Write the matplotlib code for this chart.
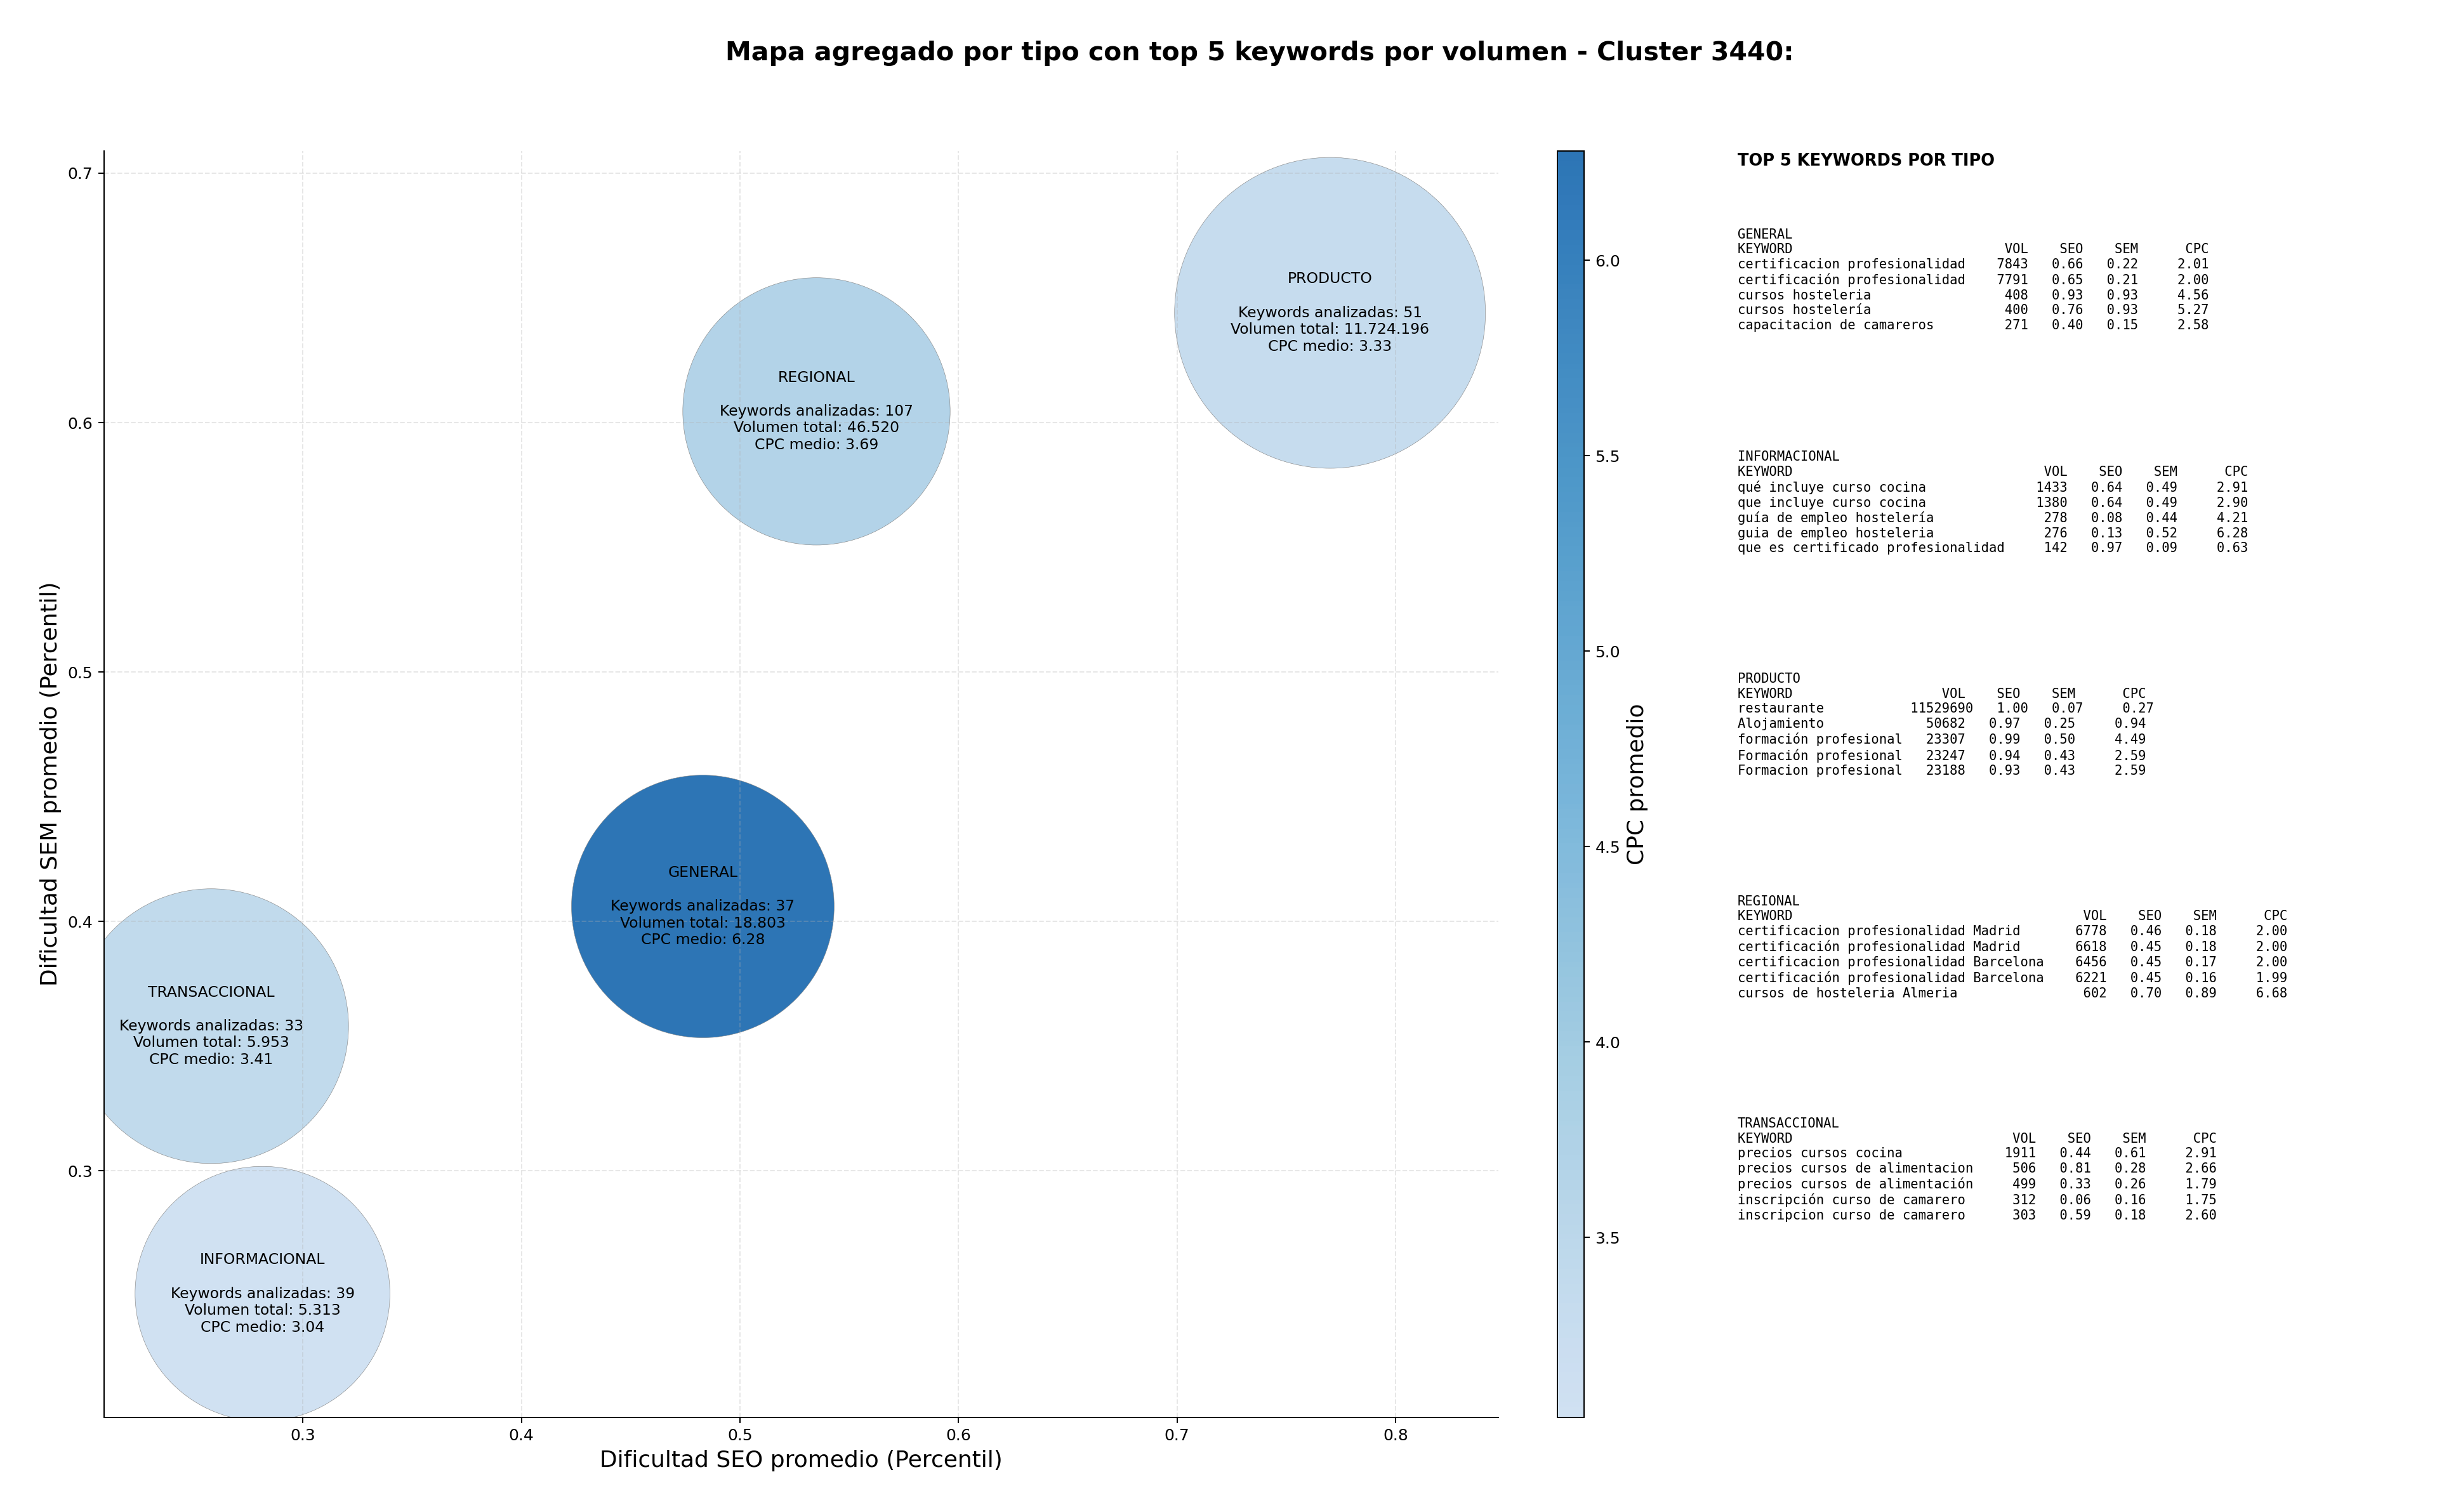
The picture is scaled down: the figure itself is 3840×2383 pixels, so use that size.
import numpy as np
import matplotlib
matplotlib.use("Agg")
import matplotlib.pyplot as plt
from matplotlib.colors import LinearSegmentedColormap

# datos agregados por tipo
tipos = ["GENERAL", "INFORMACIONAL", "PRODUCTO", "REGIONAL", "TRANSACCIONAL"]
seo_medio = [0.483, 0.2815, 0.770, 0.535, 0.258]
sem_medio = [0.406, 0.2507, 0.644, 0.6045, 0.358]
n_keywords = [37, 39, 51, 107, 33]
vol_total = [18803, 5313, 11724196, 46520, 5953]
cpc_medio = [6.28, 3.04, 3.33, 3.69, 3.41]

# top 5 keywords por tipo: (keyword, vol, seo, sem, cpc)
top_general = [
    ("certificacion profesionalidad", 7843, 0.66, 0.22, 2.01),
    ("certificación profesionalidad", 7791, 0.65, 0.21, 2.00),
    ("cursos hosteleria", 408, 0.93, 0.93, 4.56),
    ("cursos hostelería", 400, 0.76, 0.93, 5.27),
    ("capacitacion de camareros", 271, 0.40, 0.15, 2.58),
]
top_informacional = [
    ("qué incluye curso cocina", 1433, 0.64, 0.49, 2.91),
    ("que incluye curso cocina", 1380, 0.64, 0.49, 2.90),
    ("guía de empleo hostelería", 278, 0.08, 0.44, 4.21),
    ("guia de empleo hosteleria", 276, 0.13, 0.52, 6.28),
    ("que es certificado profesionalidad", 142, 0.97, 0.09, 0.63),
]
top_producto = [
    ("restaurante", 11529690, 1.00, 0.07, 0.27),
    ("Alojamiento", 50682, 0.97, 0.25, 0.94),
    ("formación profesional", 23307, 0.99, 0.50, 4.49),
    ("Formación profesional", 23247, 0.94, 0.43, 2.59),
    ("Formacion profesional", 23188, 0.93, 0.43, 2.59),
]
top_regional = [
    ("certificacion profesionalidad Madrid", 6778, 0.46, 0.18, 2.00),
    ("certificación profesionalidad Madrid", 6618, 0.45, 0.18, 2.00),
    ("certificacion profesionalidad Barcelona", 6456, 0.45, 0.17, 2.00),
    ("certificación profesionalidad Barcelona", 6221, 0.45, 0.16, 1.99),
    ("cursos de hosteleria Almeria", 602, 0.70, 0.89, 6.68),
]
top_transaccional = [
    ("precios cursos cocina", 1911, 0.44, 0.61, 2.91),
    ("precios cursos de alimentacion", 506, 0.81, 0.28, 2.66),
    ("precios cursos de alimentación", 499, 0.33, 0.26, 1.79),
    ("inscripción curso de camarero", 312, 0.06, 0.16, 1.75),
    ("inscripcion curso de camarero", 303, 0.59, 0.18, 2.60),
]
tops = [top_general, top_informacional, top_producto, top_regional, top_transaccional]

# tamaño de burbuja (puntos^2)
tam_burbuja = [27400, 25800, 38400, 28400, 30000]

cmap = LinearSegmentedColormap.from_list(
    "blues_cut", plt.cm.Blues(np.linspace(0.22, 0.78, 256)))

fig = plt.figure(figsize=(3840 / 180, 2383 / 180), dpi=180)
ax = fig.add_axes([0.0427, 0.0627, 0.5721, 0.8376])
cax = fig.add_axes([0.639, 0.0627, 0.011, 0.8376])

sc = ax.scatter(seo_medio, sem_medio, s=tam_burbuja, c=cpc_medio, cmap=cmap,
                alpha=0.92, edgecolors="grey", linewidths=0.25)

for i, t in enumerate(tipos):
    vol = f"{vol_total[i]:,}".replace(",", ".")
    txt = (f"{t}\n\nKeywords analizadas: {n_keywords[i]}\n"
           f"Volumen total: {vol}\nCPC medio: {cpc_medio[i]:.2f}")
    ax.text(seo_medio[i], sem_medio[i], txt, ha="center", va="center", fontsize=9.4)

ax.set_xlim(0.209, 0.847)
ax.set_ylim(0.2012, 0.709)
ax.set_xlabel("Dificultad SEO promedio (Percentil)", fontsize=14.4)
ax.set_ylabel("Dificultad SEM promedio (Percentil)", fontsize=14.4)
ax.grid(True, linestyle="--", alpha=0.3)
ax.spines["top"].set_visible(False)
ax.spines["right"].set_visible(False)

cb = fig.colorbar(sc, cax=cax)
cb.set_label("CPC promedio", fontsize=14.4)

fig.suptitle("Mapa agregado por tipo con top 5 keywords por volumen - Cluster 3440:",
             fontsize=16.4, fontweight="bold", x=0.517, y=0.973)

# panel de texto con top keywords
fig.text(0.713, 0.899, "TOP 5 KEYWORDS POR TIPO", fontsize=10.25,
         fontweight="bold", va="top")
for i, t in enumerate(tipos):
    w = max(len(k[0]) for k in tops[i])
    lineas = [t, f"{'KEYWORD':<{w}} {'VOL':>7} {'SEO':>6} {'SEM':>6} {'CPC':>8}"]
    for kw, vol, seo, sem, cpc in tops[i]:
        lineas.append(f"{kw:<{w}} {vol:>7} {seo:>6.2f} {sem:>6.2f} {cpc:>8.2f}")
    fig.text(0.713, 0.849 - i * 0.147, "\n".join(lineas), fontsize=8.22,
             family="monospace", va="top", linespacing=1.22)

fig.savefig("out.png", dpi=180)
